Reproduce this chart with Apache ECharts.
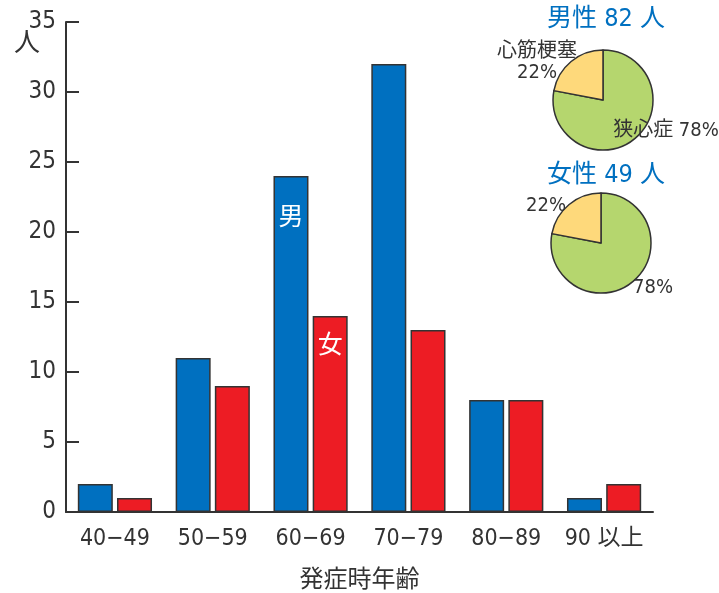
<!DOCTYPE html>
<html>
<head>
<meta charset="utf-8">
<script src="https://cdn.jsdelivr.net/npm/echarts@6/dist/echarts.min.js"></script>
<style>
  html, body { margin: 0; padding: 0; background: #fff; }
  #main { width: 719px; height: 593px; }
</style>
</head>
<body>
<div id="main"></div>
<script>
// 発症時年齢別の人数
var categories = ['40\u221249', '50\u221259', '60\u221269', '70\u221279', '80\u221289', '90 以上'];
var maleCounts = [2, 11, 24, 32, 8, 1];
var femaleCounts = [1, 9, 14, 13, 8, 2];
var yTicks = [0, 5, 10, 15, 20, 25, 30, 35];

// 病型の割合
var pieNames = ['狭心症', '心筋梗塞'];
var malePie = [78, 22];
var femalePie = [78, 22];
var maleTotal = 82;
var femaleTotal = 49;

var FONT = '"Liberation Sans Narrow", "DejaVu Sans Condensed", Roboto, "Noto Sans CJK JP", sans-serif';
var BLUE = '#0070c0';
var RED = '#ed1c24';
var INK = '#333';

var myChart = echarts.init(document.getElementById('main'));

function barData(values, labelIndex, text, dist) {
    return values.map(function (v, i) {
        if (i !== labelIndex) return v;
        return {
            value: v,
            label: {
                show: true, position: 'insideTop', distance: dist,
                formatter: text, color: '#fff', fontSize: 25,
                fontFamily: '"Noto Sans CJK JP", sans-serif'
            }
        };
    });
}

function pieData(values, colors) {
    return values.map(function (v, i) {
        return { name: pieNames[i], value: v, itemStyle: { color: colors[i] } };
    });
}

var pieColors = ['#b5d66e', '#fed97b'];

myChart.setOption({
    animation: false,
    textStyle: { fontFamily: FONT },
    title: [
        {
            text: '男性 ' + maleTotal + ' 人', left: 601, top: 2, textAlign: 'center',
            textStyle: { color: BLUE, fontSize: 25, fontWeight: 'normal', fontFamily: FONT }
        },
        {
            text: '女性 ' + femaleTotal + ' 人', left: 601, top: 158, textAlign: 'center',
            textStyle: { color: BLUE, fontSize: 25, fontWeight: 'normal', fontFamily: FONT }
        }
    ],
    grid: { left: 66, right: 66, top: 22, bottom: 81, outerBoundsMode: 'none' },
    xAxis: {
        type: 'category',
        data: categories,
        name: '発症時年齢',
        nameLocation: 'middle',
        nameGap: 57,
        nameTextStyle: { fontSize: 24, color: INK, fontFamily: FONT },
        axisLine: { lineStyle: { color: INK, width: 2 } },
        axisTick: { inside: true, length: 10, lineStyle: { color: INK, width: 2 } },
        axisLabel: { fontSize: 23, color: INK, margin: 16, interval: 0 }
    },
    yAxis: {
        type: 'value',
        min: yTicks[0],
        max: yTicks[yTicks.length - 1],
        interval: yTicks[1] - yTicks[0],
        name: '人',
        nameLocation: 'end',
        nameGap: -9,
        nameMoveOverlap: false,
        nameTextStyle: { fontSize: 26, color: INK, align: 'right', verticalAlign: 'top', padding: [0, 26, 0, 0] },
        splitLine: { show: false },
        axisLine: { show: true, lineStyle: { color: INK, width: 2 } },
        axisTick: { show: true, inside: true, length: 13, lineStyle: { color: INK, width: 2 } },
        axisLabel: { fontSize: 24, color: INK, margin: 10 }
    },
    series: [
        {
            name: '男', type: 'bar', barWidth: 35, barGap: '12%',
            itemStyle: { color: BLUE, borderColor: INK, borderWidth: 1.5 },
            data: barData(maleCounts, 2, '男', 27)
        },
        {
            name: '女', type: 'bar', barWidth: 35,
            itemStyle: { color: RED, borderColor: INK, borderWidth: 1.5 },
            data: barData(femaleCounts, 2, '女', 15)
        },
        {
            name: '男性', type: 'pie', center: [603, 100], radius: 50,
            startAngle: 90, clockwise: true,
            itemStyle: { borderColor: INK, borderWidth: 1.5 },
            labelLine: { show: false },
            label: {
                show: true, fontSize: 20, color: INK, lineHeight: 21, align: 'center',
                overflow: 'none', width: 200,
                formatter: function (p) {
                    return p.dataIndex === 0 ? p.name + ' ' + p.value + '%' : p.name + '\n' + p.value + '%';
                }
            },
            labelLayout: function (p) {
                return p.dataIndex === 0
                    ? { x: 666, y: 131, align: 'center', verticalAlign: 'middle' }
                    : { x: 537, y: 62, align: 'center', verticalAlign: 'middle' };
            },
            data: pieData(malePie, pieColors)
        },
        {
            name: '女性', type: 'pie', center: [601, 243], radius: 50,
            startAngle: 90, clockwise: true,
            itemStyle: { borderColor: INK, borderWidth: 1.5 },
            labelLine: { show: false },
            label: {
                show: true, fontSize: 20, color: INK, align: 'center',
                overflow: 'none', width: 200,
                formatter: '{c}%'
            },
            labelLayout: function (p) {
                return p.dataIndex === 0
                    ? { x: 653, y: 288, align: 'center', verticalAlign: 'middle' }
                    : { x: 546, y: 206, align: 'center', verticalAlign: 'middle' };
            },
            data: pieData(femalePie, pieColors)
        }
    ]
});
</script>
</body>
</html>
